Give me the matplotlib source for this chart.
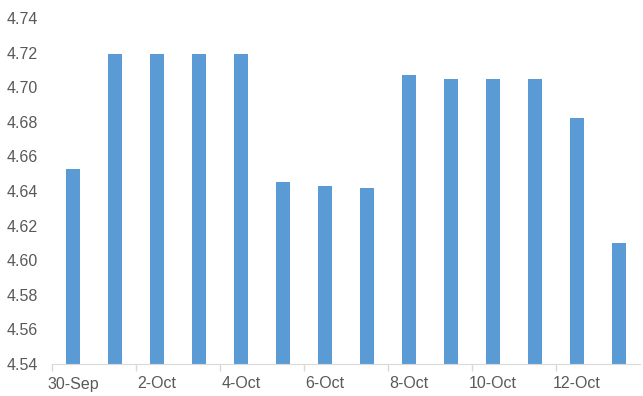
import numpy as np
import matplotlib.pyplot as plt

# daily values, 30-Sep to 13-Oct
dates = ['30-Sep', '1-Oct', '2-Oct', '3-Oct', '4-Oct', '5-Oct', '6-Oct',
         '7-Oct', '8-Oct', '9-Oct', '10-Oct', '11-Oct', '12-Oct', '13-Oct']
values = [4.653, 4.719, 4.719, 4.719, 4.719, 4.645, 4.643,
          4.642, 4.707, 4.705, 4.705, 4.705, 4.682, 4.610]
yticks = np.round(np.arange(4.54, 4.741, 0.02), 2)

plt.rcParams['font.family'] = ['Liberation Sans', 'DejaVu Sans']

fig = plt.figure(figsize=(6.43, 3.96), dpi=100)
ax = fig.add_axes([52/643, 32/396, 588/643, 346/396])

x = np.arange(len(dates))
ax.bar(x, values, width=0.33, color='#5B9BD5', bottom=0)

ax.set_ylim(4.54, 4.74)
ax.set_xlim(-0.5, len(dates) - 0.5)
ax.set_yticks(yticks)
ax.set_yticklabels(['%.2f' % v for v in yticks])

# labels on every other day, ticks at category boundaries
ax.set_xticks(x[::2])
ax.set_xticklabels(dates[::2])
ax.set_xticks(np.arange(-0.5, 12, 2), minor=True)
ax.tick_params(axis='x', which='major', length=0, pad=9)
ax.tick_params(axis='x', which='minor', length=5, color='#D9D9D9', width=1)
ax.tick_params(axis='y', length=0, pad=10)
ax.tick_params(labelsize=11.5, labelcolor='#595959')

for s in ['top', 'right', 'left']:
    ax.spines[s].set_visible(False)
ax.spines['bottom'].set_color('#D9D9D9')

plt.savefig('out.png', dpi=100)
